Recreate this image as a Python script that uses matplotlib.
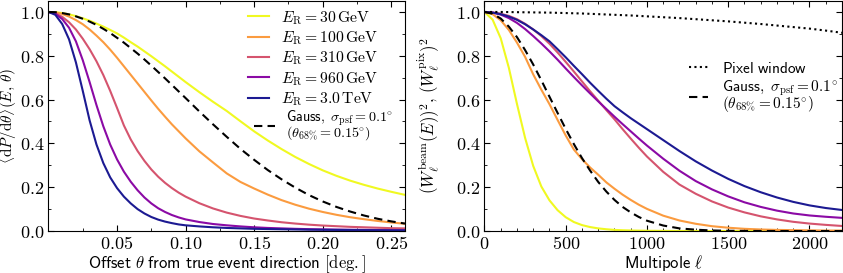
import matplotlib
matplotlib.use("Agg")
import matplotlib.pyplot as plt
from matplotlib.ticker import MultipleLocator

plt.rcParams['mathtext.fontset'] = 'cm'
plt.rcParams['font.family'] = 'DejaVu Sans'

# ---- left panel: PSF profiles vs offset angle (deg) ----
theta = [0.0, 0.005, 0.01, 0.015, 0.02, 0.025, 0.03, 0.035, 0.04, 0.045, 0.05,
         0.055, 0.06, 0.065, 0.07, 0.075, 0.08, 0.085, 0.09, 0.095, 0.10,
         0.11, 0.12, 0.13, 0.14, 0.15, 0.16, 0.17, 0.18, 0.19, 0.20,
         0.21, 0.22, 0.23, 0.24, 0.25, 0.26]

psf_30gev = [1.0, 0.999, 0.995, 0.989, 0.981, 0.971, 0.960, 0.947, 0.933, 0.918, 0.902,
             0.883, 0.862, 0.842, 0.820, 0.798, 0.775, 0.752, 0.728, 0.704, 0.680,
             0.634, 0.590, 0.548, 0.501, 0.455, 0.413, 0.374, 0.338, 0.306, 0.277,
             0.252, 0.230, 0.211, 0.194, 0.179, 0.165]
psf_100gev = [1.0, 0.998, 0.991, 0.979, 0.963, 0.944, 0.920, 0.892, 0.862, 0.828, 0.791,
              0.752, 0.713, 0.674, 0.635, 0.596, 0.558, 0.522, 0.487, 0.455, 0.423,
              0.364, 0.313, 0.263, 0.224, 0.194, 0.166, 0.141, 0.120, 0.102, 0.087,
              0.074, 0.063, 0.054, 0.046, 0.039, 0.033]
psf_310gev = [1.0, 0.994, 0.978, 0.953, 0.920, 0.878, 0.830, 0.775, 0.712, 0.640, 0.562,
              0.482, 0.418, 0.365, 0.320, 0.281, 0.248, 0.220, 0.196, 0.175, 0.157,
              0.127, 0.103, 0.084, 0.069, 0.057, 0.048, 0.040, 0.034, 0.029, 0.025,
              0.022, 0.019, 0.017, 0.015, 0.013, 0.012]
psf_960gev = [1.0, 0.992, 0.968, 0.928, 0.866, 0.780, 0.680, 0.575, 0.478, 0.395, 0.327,
              0.271, 0.225, 0.186, 0.153, 0.126, 0.104, 0.087, 0.073, 0.062, 0.053,
              0.041, 0.032, 0.026, 0.021, 0.017, 0.014, 0.012, 0.010, 0.0085, 0.0075,
              0.0065, 0.0058, 0.0052, 0.0046, 0.0041, 0.0037]
psf_3tev = [1.0, 0.987, 0.945, 0.875, 0.770, 0.640, 0.505, 0.395, 0.310, 0.245, 0.196,
            0.157, 0.126, 0.100, 0.080, 0.064, 0.052, 0.043, 0.036, 0.030, 0.026,
            0.021, 0.017, 0.014, 0.012, 0.010, 0.009, 0.008, 0.007, 0.006, 0.0055,
            0.005, 0.0045, 0.004, 0.0035, 0.003, 0.003]
psf_gauss = [1.0, 0.999, 0.995, 0.989, 0.980, 0.969, 0.956, 0.941, 0.923, 0.904, 0.882,
             0.860, 0.835, 0.810, 0.783, 0.755, 0.726, 0.697, 0.667, 0.637, 0.607,
             0.546, 0.487, 0.430, 0.375, 0.325, 0.278, 0.236, 0.198, 0.164, 0.135,
             0.110, 0.089, 0.071, 0.056, 0.044, 0.034]

# ---- right panel: window functions vs multipole ----
ell = [0, 50, 100, 150, 200, 250, 300, 350, 400, 450, 500, 550, 600, 650, 700,
       750, 800, 850, 900, 950, 1000, 1100, 1200, 1300, 1400, 1500, 1600, 1700,
       1800, 1900, 2000, 2100, 2200]

wl_30gev = [1.0, 0.965, 0.880, 0.745, 0.580, 0.425, 0.297, 0.203, 0.140, 0.095, 0.063,
            0.041, 0.027, 0.018, 0.012, 0.008, 0.005, 0.0035, 0.0025, 0.0018, 0.0012,
            0.0006, 0.0003, 0.0001, 0.0, 0.0, 0.0, 0.0, 0.0, 0.0, 0.0, 0.0, 0.0]
wl_100gev = [1.0, 0.990, 0.962, 0.918, 0.860, 0.795, 0.715, 0.645, 0.579, 0.507, 0.436,
             0.372, 0.328, 0.290, 0.257, 0.222, 0.193, 0.166, 0.142, 0.120, 0.101,
             0.070, 0.048, 0.033, 0.022, 0.015, 0.010, 0.007, 0.005, 0.004, 0.003,
             0.002, 0.002]
wl_310gev = [1.0, 0.998, 0.992, 0.982, 0.967, 0.946, 0.920, 0.890, 0.855, 0.815, 0.772,
             0.728, 0.683, 0.638, 0.595, 0.552, 0.510, 0.465, 0.422, 0.380, 0.340,
             0.270, 0.212, 0.170, 0.135, 0.107, 0.085, 0.067, 0.053, 0.042, 0.034,
             0.028, 0.023]
wl_960gev = [1.0, 0.997, 0.988, 0.972, 0.950, 0.922, 0.890, 0.856, 0.820, 0.782, 0.742,
             0.703, 0.665, 0.628, 0.592, 0.557, 0.522, 0.488, 0.455, 0.422, 0.390,
             0.330, 0.275, 0.228, 0.190, 0.158, 0.131, 0.110, 0.093, 0.080, 0.071,
             0.065, 0.060]
wl_3tev = [1.0, 0.997, 0.990, 0.979, 0.964, 0.944, 0.920, 0.894, 0.866, 0.830, 0.793,
           0.754, 0.716, 0.677, 0.640, 0.604, 0.570, 0.542, 0.515, 0.490, 0.465,
           0.415, 0.365, 0.318, 0.276, 0.238, 0.205, 0.177, 0.153, 0.133, 0.117,
           0.105, 0.096]
wl_gauss = [1.0, 0.992, 0.970, 0.933, 0.885, 0.826, 0.760, 0.688, 0.613, 0.539, 0.466,
            0.397, 0.333, 0.276, 0.224, 0.180, 0.142, 0.110, 0.085, 0.064, 0.047,
            0.025, 0.012, 0.006, 0.0025, 0.001, 0.0004, 0.0001, 0.0, 0.0, 0.0, 0.0, 0.0]
wl_pixel = [1.0, 1.0, 1.0, 0.9995, 0.999, 0.9985, 0.998, 0.9975, 0.997, 0.996, 0.995,
            0.994, 0.993, 0.9915, 0.990, 0.9885, 0.987, 0.9855, 0.984, 0.982, 0.980,
            0.976, 0.972, 0.967, 0.962, 0.957, 0.951, 0.945, 0.938, 0.931, 0.924,
            0.915, 0.905]

labels = [r'$E_{\rm R} = 30\,\rm GeV$', r'$E_{\rm R} = 100\,\rm GeV$',
          r'$E_{\rm R} = 310\,\rm GeV$', r'$E_{\rm R} = 960\,\rm GeV$',
          r'$E_{\rm R} = 3.0\,\rm TeV$']
colors = ['#f0f921', '#fb9b3f', '#d5546e', '#8b0aa5', '#1c1a92']
gauss_label = ('$\\mathsf{Gauss,}\\ \\sigma_{\\rm psf} = 0.1^{\\circ}$\n'
               '$(\\theta_{68\\%} = 0.15^{\\circ})$')
pixel_label = r'$\mathsf{Pixel\ window}$'

fig = plt.figure(figsize=(8.43, 2.73), dpi=100)
ax1 = fig.add_axes([0.0575, 0.1538, 0.4229, 0.8425])
ax2 = fig.add_axes([0.5747, 0.1538, 0.4241, 0.8425])

dash = (0, (4, 2.5))
psfs = [psf_30gev, psf_100gev, psf_310gev, psf_960gev, psf_3tev]
energy_lines = []
for y, c, lab in zip(psfs, colors, labels):
    ln, = ax1.plot(theta, y, color=c, lw=1.5, label=lab)
    energy_lines.append(ln)
gauss_line, = ax1.plot(theta, psf_gauss, color='k', lw=1.5, ls=dash, label=gauss_label)

wls = [wl_30gev, wl_100gev, wl_310gev, wl_960gev, wl_3tev]
for y, c in zip(wls, colors):
    ax2.plot(ell, y, color=c, lw=1.5)
ax2.plot(ell, wl_pixel, color='k', lw=1.5, ls=(0, (1, 1.6)), label=pixel_label)
ax2.plot(ell, wl_gauss, color='k', lw=1.5, ls=dash, label=gauss_label)

ax1.set_xlim(0, 0.26)
ax2.set_xlim(0, 2200)
yt = [0, 0.2, 0.4, 0.6, 0.8, 1.0]
for ax in (ax1, ax2):
    ax.set_ylim(0, 1.05)
    ax.set_yticks(yt)
    ax.set_yticklabels(['$%.1f$' % v for v in yt])
    ax.yaxis.set_minor_locator(MultipleLocator(0.1))
    ax.tick_params(which='both', direction='in', top=True, right=True,
                   labelsize=13, pad=3)
    ax.tick_params(which='major', length=4)
    ax.tick_params(which='minor', length=2.5)

ax1.set_xticks([0.05, 0.10, 0.15, 0.20, 0.25])
ax1.set_xticklabels(['$0.05$', '$0.10$', '$0.15$', '$0.20$', '$0.25$'])
ax1.xaxis.set_minor_locator(MultipleLocator(0.025))
ax2.set_xticks([0, 500, 1000, 1500, 2000])
ax2.set_xticklabels(['$0$', '$500$', '$1000$', '$1500$', '$2000$'])
ax2.xaxis.set_minor_locator(MultipleLocator(100))

ax1.set_xlabel(r'$\mathsf{Offset}\ \theta\ \mathsf{from\ true\ event\ direction}\ [\mathrm{deg.}]$',
               fontsize=12, labelpad=0)
ax1.set_ylabel(r'$\langle \mathrm{d}P/\mathrm{d}\theta\rangle(E,\,\theta)$', fontsize=11)
ax1.yaxis.set_label_coords(-0.082, 0.5)
ax2.set_xlabel(r'$\mathsf{Multipole}\ \ell$', fontsize=12, labelpad=0)
ax2.set_ylabel(r'$(W_\ell^{\rm beam}(E))^2\mathsf{,}\ (W_\ell^{\rm pix})^2$', fontsize=12)
ax2.yaxis.set_label_coords(-0.118, 0.5)

# left: energies in one legend, Gauss entry in a second one just below
leg1 = ax1.legend(handles=energy_lines, loc='upper right', bbox_to_anchor=(0.945, 1.0),
                  frameon=False, fontsize=11.3, handlelength=1.35,
                  handletextpad=0.75, labelspacing=0.17, borderaxespad=0.1)
ax1.add_artist(leg1)
leg1b = ax1.legend(handles=[gauss_line], loc='upper left', bbox_to_anchor=(0.561, 0.555),
                   frameon=False, fontsize=10.2, handlelength=1.5,
                   handletextpad=0.75, borderaxespad=0.0)
leg2 = ax2.legend(loc='upper left', bbox_to_anchor=(0.535, 0.80), frameon=False,
                  fontsize=11, handlelength=1.2, handletextpad=0.9, labelspacing=0.2)
for leg in (leg1, leg1b, leg2):
    for t in leg.get_texts():
        t.set_linespacing(0.7)

fig.savefig('out.png', dpi=100)
